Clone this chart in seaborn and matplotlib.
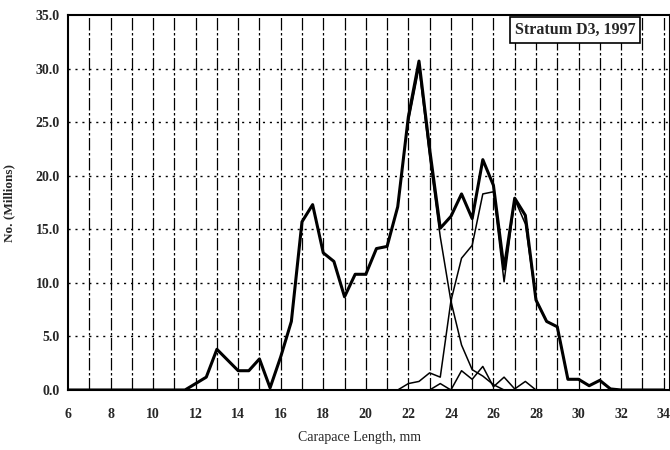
import numpy as np
import pandas as pd
import matplotlib
matplotlib.use("Agg")
import matplotlib.pyplot as plt
import seaborn as sns

# ---- data ----
length_total = [6, 6.5, 7, 7.5, 8, 8.5, 9, 9.5, 10, 10.5, 11, 11.5,
                12, 12.5, 13, 13.5, 14, 14.5, 15, 15.5, 16, 16.5, 17, 17.5,
                18, 18.5, 19, 19.5, 20, 20.5, 21, 21.5, 22, 22.5, 23, 23.5,
                24, 24.5, 25, 25.5, 26, 26.5, 27, 27.5, 28, 28.5, 29, 29.5,
                30, 30.5, 31, 31.5, 32, 32.5, 33, 33.5, 34]
total = [0, 0, 0, 0, 0, 0, 0, 0, 0, 0, 0, 0,
         0.6, 1.2, 3.8, 2.8, 1.8, 1.8, 2.9, 0.2, 3.1, 6.4, 15.7, 17.3,
         12.8, 12.0, 8.7, 10.8, 10.8, 13.2, 13.4, 17.1, 25.5, 30.7, 22.5, 15.1,
         16.2, 18.3, 16.0, 21.5, 19.1, 11.3, 17.9, 16.3, 8.4, 6.4, 5.9, 1.0,
         1.0, 0.4, 0.9, 0.1, 0, 0, 0, 0, 0]

length_a = [22, 22.5, 23, 23.5, 24, 24.5, 25, 25.5, 26, 26.5]
cohort_a = [25.0, 30.1, 21.8, 14.3, 8.3, 4.2, 1.9, 1.3, 0.5, 0.0]

length_b = [21.5, 22, 22.5, 23, 23.5, 24, 24.5, 25, 25.5, 26, 26.5, 27,
            27.5, 28, 28.5, 29, 29.5, 30, 30.5, 31, 31.5, 32]
cohort_b = [0.0, 0.6, 0.8, 1.6, 1.2, 8.3, 12.3, 13.5, 18.3, 18.5, 10.1, 17.8,
            15.5, 8.4, 6.4, 5.9, 1.0, 1.0, 0.4, 0.9, 0.1, 0.0]

length_d = [23, 23.5, 24, 24.5, 25, 25.5, 26, 26.5, 27, 27.5, 28]
cohort_d = [0.0, 0.6, 0.0, 1.8, 1.0, 2.2, 0.3, 1.2, 0.1, 0.8, 0.0]

x_ticks = [6, 8, 10, 12, 14, 16, 18, 20, 22, 24, 26, 28, 30, 32, 34]
y_ticks = [0, 5, 10, 15, 20, 25, 30, 35]
y_tick_labels = ["0.0", "5.0", "10.0", "15.0", "20.0", "25.0", "30.0", "35.0"]

# ---- style ----
sns.set_style("white")
plt.rcParams["font.family"] = ["Liberation Serif", "DejaVu Serif"]

fig = plt.figure(figsize=(6.7, 4.5), dpi=100)
ax = fig.add_axes([68 / 670, 60 / 450, 1 - 68 / 670, 375 / 450])
ax.set_xlim(6, 34.3)
ax.set_ylim(0, 35)

# grid
for v in range(7, 35):
    ax.axvline(v, color="black", lw=0.9, ls=(0, (10, 2, 2, 2)), zorder=1)
for h in range(5, 35, 5):
    ax.axhline(h, color="black", lw=1.0, ls=(0, (1.5, 3.5)), zorder=1)

# series
sns.lineplot(x=length_d, y=cohort_d, color="black", lw=1.1, ax=ax, zorder=3)
sns.lineplot(x=length_a, y=cohort_a, color="black", lw=1.1, ax=ax, zorder=3)
sns.lineplot(x=length_b, y=cohort_b, color="black", lw=1.1, ax=ax, zorder=3)
sns.lineplot(x=length_total, y=total, color="black", lw=2.2, ax=ax, zorder=4)

# axes styling
for s in ax.spines.values():
    s.set_color("black")
    s.set_linewidth(1.5)
ax.set_xticks(x_ticks)
ax.set_xticklabels([str(t) for t in x_ticks], fontsize=10, fontweight="bold")
ax.set_yticks(y_ticks)
ax.set_yticklabels(y_tick_labels, fontsize=10, fontweight="bold")
ax.tick_params(axis="x", length=0, pad=13)
ax.tick_params(axis="y", length=0, pad=6)

ax.set_xlabel("Carapace Length, mm", fontsize=10)
ax.xaxis.set_label_coords(0.485, -0.109)
ax.set_ylabel("No. (Millions)", fontsize=9.5, fontweight="bold")
ax.yaxis.set_label_coords(-0.088, 0.5)

ax.text(0.842, 0.96, "Stratum D3, 1997", transform=ax.transAxes,
        ha="center", va="center", fontsize=11.5, fontweight="bold", zorder=6,
        bbox=dict(boxstyle="square,pad=0.3", fc="white", ec="black", lw=1.2))

fig.savefig("out.png", dpi=100)
